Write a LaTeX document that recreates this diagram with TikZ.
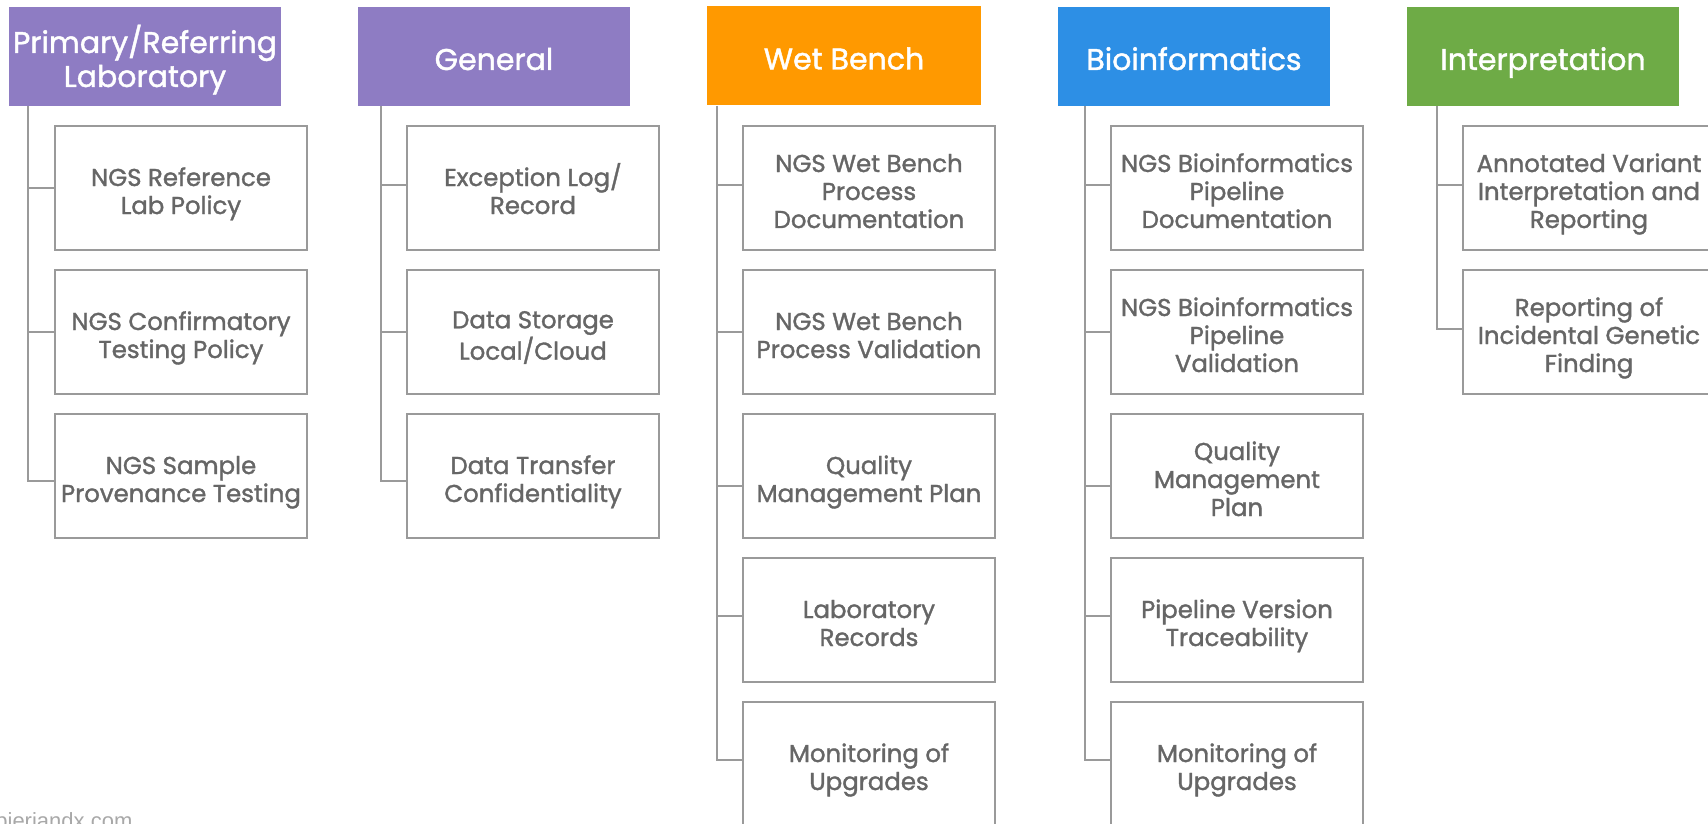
\documentclass[tikz,border=0pt]{standalone}
\usepackage{fontspec}
\setmainfont{Poppins}[FakeBold=1.4]
\newfontfamily\wmfont{Liberation Sans}
\usepackage{tikz}
\usetikzlibrary{calc}
\definecolor{purp}{HTML}{8E7CC3}
\definecolor{orng}{HTML}{FF9900}
\definecolor{blu}{HTML}{2D8FE5}
\definecolor{grn}{HTML}{6EAB46}
\definecolor{textgray}{HTML}{666666}
\definecolor{linegray}{HTML}{9A9A9A}
\definecolor{wmgray}{HTML}{A8A8A8}
% text lines, with extra room on top so that they sit as in the slide
\newcommand{\hdrlines}[1]{\begin{tabular}{@{}c@{}}\rule{0pt}{18.6pt}#1\end{tabular}}
\newcommand{\boxlines}[1]{\begin{tabular}{@{}c@{}}\rule{0pt}{16.2pt}#1\end{tabular}}
\tikzset{hdr/.style={fill=#1, text=white, minimum width=136pt, minimum height=49.5pt, inner sep=0pt, font=\fontsize{15}{17}\selectfont}}
\tikzset{box/.style={draw=linegray, line width=0.7pt, minimum width=126pt, minimum height=62pt, inner sep=0pt, text=textgray, font=\fontsize{12.2}{14}\selectfont}}
\tikzset{conn/.style={draw=linegray, line width=0.7pt}}

\begin{document}
\begin{tikzpicture}[x=0.5pt, y=-0.5pt]
            \useasboundingbox (0,0) rectangle (1708,824);
            \clip (0,0) rectangle (1708,824);

            % Primary/Referring Laboratory
            \node [hdr=purp] (P) at (145,56.5) {\hdrlines{Primary/Referring\\Laboratory}};
            \coordinate (Pt) at (28,106);
            \node [box] (P1) at (181,188) {\boxlines{NGS Reference\\Lab Policy}};
            \node [box] (P2) at (181,332) {\boxlines{NGS Confirmatory\\Testing Policy}};
            \node [box] (P3) at (181,476) {\boxlines{NGS Sample\\Provenance Testing}};
            \draw [conn] (Pt) |- (P1.west) (Pt) |- (P2.west) (Pt) |- ([yshift=-2.5pt]P3.west);

            % General
            \node [hdr=purp] (G) at (494,56.5) {\hdrlines{General}};
            \coordinate (Gt) at (381,106);
            \node [box] (G1) at (533,188) {\boxlines{Exception Log/\\Record}};
            \node [box] (G2) at (533,332) {\boxlines{Data Storage\\Local/Cloud}};
            \node [box] (G3) at (533,476) {\boxlines{Data Transfer\\Confidentiality}};
            \draw [conn] (Gt) |- ([yshift=1.5pt]G1.west) (Gt) |- (G2.west) (Gt) |- ([yshift=-2.5pt]G3.west);

            % Wet Bench
            \node [hdr=orng, minimum width=137pt] (W) at (844,56) {\hdrlines{Wet Bench}};
            \coordinate (Wt) at (717,106);
            \node [box] (W1) at (869,188) {\boxlines{NGS Wet Bench\\Process\\Documentation}};
            \node [box] (W2) at (869,332) {\boxlines{NGS Wet Bench\\Process Validation}};
            \node [box] (W3) at (869,476) {\boxlines{Quality\\Management Plan}};
            \node [box] (W4) at (869,620) {\boxlines{Laboratory\\Records}};
            \node [box] (W5) at (869,764) {\boxlines{Monitoring of\\Upgrades}};
            \draw [conn] (Wt) |- ([yshift=1.5pt]W1.west) (Wt) |- (W2.west) (Wt) |- ([yshift=-5pt]W3.west)
              (Wt) |- ([yshift=2pt]W4.west) (Wt) |- ([yshift=2pt]W5.west);

            % Bioinformatics
            \node [hdr=blu] (B) at (1194,56.5) {\hdrlines{Bioinformatics}};
            \coordinate (Bt) at (1085,106);
            \node [box] (B1) at (1237,188) {\boxlines{NGS Bioinformatics\\Pipeline\\Documentation}};
            \node [box] (B2) at (1237,332) {\boxlines{NGS Bioinformatics\\Pipeline\\Validation}};
            \node [box] (B3) at (1237,476) {\boxlines{Quality\\Management\\Plan}};
            \node [box] (B4) at (1237,620) {\boxlines{Pipeline Version\\Traceability}};
            \node [box] (B5) at (1237,764) {\boxlines{Monitoring of\\Upgrades}};
            \draw [conn] (Bt) |- ([yshift=1.5pt]B1.west) (Bt) |- (B2.west) (Bt) |- ([yshift=-5pt]B3.west)
              (Bt) |- ([yshift=2pt]B4.west) (Bt) |- ([yshift=2pt]B5.west);

            % Interpretation
            \node [hdr=grn] (I) at (1543,56.5) {\hdrlines{Interpretation}};
            \coordinate (It) at (1437,106);
            \node [box] (I1) at (1589,188) {\boxlines{Annotated Variant\\Interpretation and\\Reporting}};
            \node [box] (I2) at (1589,332) {\boxlines{Reporting of\\Incidental Genetic\\Finding}};
            \draw [conn] (It) |- ([yshift=1.5pt]I1.west) (It) |- ([yshift=1.5pt]I2.west);

            \node [anchor=base west, inner sep=0pt, text=wmgray, font=\wmfont\fontsize{11}{11}\selectfont] (wm) at (-5,828.5) {pieriandx.com};
          \end{tikzpicture}
\end{document}
